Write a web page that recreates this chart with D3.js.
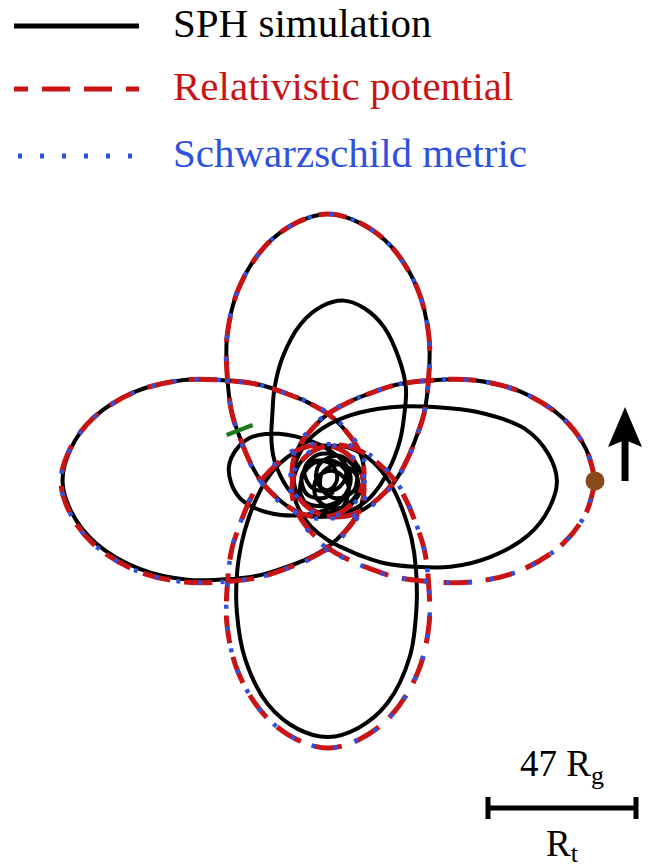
<!DOCTYPE html>
<html>
<head>
<meta charset="utf-8">
<style>
body { margin: 0; background: #fff; }
svg { display: block; font-family: "Liberation Serif", "Times New Roman", serif; }

/*	orbit styles	*/
.sph  { fill: none; stroke: #000; stroke-width: 4px; stroke-linejoin: round; }
.rel  { fill: none; stroke: #c81414; stroke-width: 5px; stroke-dasharray: 28 14; }
.schw { fill: none; stroke: #2f52dc; stroke-width: 4.5px; stroke-dasharray: 4 18; }

.bar { stroke: #000; stroke-width: 5px; }
</style>
</head>
<body>
<svg id="chart" width="651" height="868"></svg>

<script src="https://d3js.org/d3.v7.min.js"></script>
<script>
//	legend labels
var labels = ["SPH simulation", "Relativistic potential", "Schwarzschild metric"];

//	orbital phase (deg) measured from the apocentre each petal starts at
var relPhase = [0, 7, 15, 25, 35, 45, 55, 65, 75, 90, 110, 130, 155, 190, 225,
                260, 295, 320, 340, 360, 375, 385, 395, 405, 415, 425, 435, 443, 450];
//	apocentre angle (deg, continuous) each petal starts at
var petalStart = [0, 450, 900, 1350];

//	radius in R_g along each petal, relativistic potential
var relRadius = [
  [84.8, 82.6, 77.2, 67.3, 55.9, 45.1, 37.2, 30.5, 26.0, 21.3, 16.8, 14.3, 12.4, 11.0, 10.5,
   11.0, 12.4, 14.3, 16.8, 21.3, 26.0, 30.5, 37.2, 45.1, 55.9, 67.3, 77.2, 82.6, 84.8],
  [84.8, 82.6, 77.2, 67.3, 55.9, 45.1, 37.2, 30.5, 26.0, 21.3, 16.8, 14.3, 12.4, 11.0, 10.5,
   11.0, 12.4, 14.3, 16.8, 21.3, 26.0, 30.5, 37.2, 45.1, 55.9, 67.3, 77.2, 82.6, 84.8],
  [84.8, 82.6, 77.2, 67.3, 55.9, 45.1, 37.2, 30.5, 26.0, 21.3, 16.8, 14.3, 12.4, 11.0, 10.5,
   11.0, 12.4, 14.3, 16.8, 21.3, 26.0, 30.5, 37.2, 45.1, 55.9, 67.3, 77.2, 82.6, 84.8],
  [84.8, 82.6, 77.2, 67.3, 55.9, 45.1, 37.2, 30.5, 26.0, 21.3, 16.8, 14.3, 12.4, 11.0, 10.5,
   11.0, 12.4, 14.3, 16.8, 21.3, 26.0, 30.5, 37.2, 45.1, 55.9, 67.3, 77.2, 82.6, 84.8]
];

//	radius in R_g along each petal, Schwarzschild metric
var schwRadius = [
  [84.8, 82.6, 77.2, 67.3, 55.9, 45.1, 37.2, 30.6, 26.2, 21.6, 17.3, 14.8, 12.9, 11.4, 10.9,
   11.4, 12.9, 14.8, 17.3, 21.6, 26.2, 30.6, 37.2, 45.1, 55.9, 67.3, 77.2, 82.6, 84.8],
  [84.8, 82.6, 77.2, 67.3, 55.9, 45.1, 37.2, 30.6, 26.2, 21.6, 17.3, 14.8, 12.9, 11.4, 10.9,
   11.4, 12.9, 14.8, 17.3, 21.6, 26.2, 30.6, 37.2, 45.1, 55.9, 67.3, 77.2, 82.6, 84.8],
  [84.8, 82.6, 77.2, 67.3, 55.9, 45.1, 37.2, 30.6, 26.2, 21.6, 17.3, 14.8, 12.9, 11.4, 10.9,
   11.4, 12.9, 14.8, 17.3, 21.6, 26.2, 30.6, 37.2, 45.1, 55.9, 67.3, 77.2, 82.6, 84.8],
  [84.8, 82.6, 77.2, 67.3, 55.9, 45.1, 37.2, 30.6, 26.2, 21.6, 17.3, 14.8, 12.9, 11.4, 10.9,
   11.4, 12.9, 14.8, 17.3, 21.6, 26.2, 30.6, 37.2, 45.1, 55.9, 67.3, 77.2, 82.6, 84.8]
];

//	SPH orbit: angle (deg, continuous) and radius (R_g)
var sphPhi = [
  0, 7, 15, 25, 35, 45, 55, 65, 75, 90, 110, 130, 155, 190, 225,
  260, 295, 320, 340, 360, 375, 385, 395, 405, 415, 425, 435, 443, 450,
  457, 465, 475, 485, 495, 505, 515, 525, 540, 560, 580, 605, 640, 675,
  710, 745, 770, 790, 810, 825, 835, 845, 855, 865, 875, 885, 893, 900,
  907, 915, 925, 935, 945, 955, 965, 975, 990, 1010, 1030, 1055, 1090, 1125,
  1160, 1195, 1220, 1240, 1260, 1275, 1285, 1295, 1305, 1315, 1325, 1335, 1343, 1350,
  1357, 1365, 1375, 1385, 1395, 1405, 1415, 1425, 1440, 1460, 1480, 1505, 1540, 1575,
  1610, 1645, 1670, 1690, 1710, 1725, 1735, 1745, 1755, 1765, 1775, 1785, 1793, 1800,
  1807, 1815, 1825, 1835, 1845, 1855, 1865, 1875, 1890, 1910, 1930, 1955, 1990, 2022,
  2055, 2090, 2115, 2135, 2155, 2170, 2180, 2190, 2200, 2210, 2220, 2230, 2238, 2245,
  2252, 2260, 2270, 2280, 2290, 2300, 2310, 2320, 2335, 2355, 2375, 2400, 2435, 2468,
  2501, 2531, 2571, 2601, 2616, 2631, 2646, 2656, 2663, 2671, 2681, 2691,
  2701, 2711, 2719, 2726, 2736, 2751, 2766, 2781, 2811, 2851, 2881, 2911,
  2951, 2996, 3041, 3086, 3131,
  3176, 3221, 3266, 3311, 3351, 3391, 3436, 3481, 3526, 3571,
  3612, 3653, 3694, 3740, 3776, 3812, 3858, 3899, 3940, 3981,
  4026, 4071, 4116, 4161, 4206, 4251, 4296, 4341, 4386, 4431,
  4473, 4515, 4557, 4600, 4641, 4682, 4725, 4767, 4809, 4851,
  4893, 4935, 4977
];
var sphRadius = [
  84.8, 82.6, 77.2, 67.3, 55.9, 45.1, 37.2, 30.5, 26.0, 21.3, 16.8, 14.3, 12.4, 11.0, 10.5,
  11.0, 12.4, 14.3, 16.8, 21.3, 26.0, 30.5, 37.2, 45.1, 55.9, 67.3, 77.2, 82.6, 84.8,
  82.6, 77.2, 67.3, 55.9, 45.1, 37.2, 30.5, 26.0, 21.3, 16.8, 14.3, 12.4, 11.0, 10.5,
  11.0, 12.4, 14.3, 16.8, 21.3, 26.0, 30.5, 37.2, 45.1, 55.9, 67.3, 77.2, 82.4, 84.3,
  82.0, 76.3, 66.0, 54.6, 44.0, 36.3, 29.9, 25.6, 20.9, 16.6, 14.1, 12.3, 10.9, 10.5,
  10.9, 12.3, 14.0, 16.3, 19.8, 23.8, 27.8, 33.3, 40.8, 50.5, 62.3, 73.5, 79.3, 81.3,
  79.0, 73.0, 61.5, 49.0, 39.5, 32.5, 27.0, 23.2, 19.3, 15.9, 13.7, 12.1, 10.8, 10.5,
  10.8, 11.8, 13.3, 15.5, 18.8, 22.5, 26.5, 32.0, 38.5, 47.5, 57.0, 66.0, 70.8, 72.7,
  70.5, 64.5, 52.0, 41.0, 33.5, 28.0, 24.0, 21.0, 17.8, 15.0, 13.0, 11.6, 10.7, 10.4,
  10.4, 11.1, 12.3, 14.0, 16.5, 19.5, 22.5, 26.5, 31.5, 38.5, 45.0, 52.0, 56.0, 57.5,
  55.5, 50.5, 42.0, 34.0, 27.5, 23.5, 20.5, 18.0, 15.0, 12.5, 10.5, 9.0, 7.6, 7.0,
  7.0, 7.3, 7.9, 9.2, 10.8, 13.3, 17.5, 21.6, 24.8, 28.3, 30.8, 31.8,
  30.8, 28.5, 25.3, 22.3, 18.4, 14.0, 11.3, 9.5, 8.0, 7.2, 6.8, 6.5,
  6.6, 7.0, 8.0, 9.6, 10.5,
  9.6, 7.0, 4.6, 3.4, 3.0, 3.4, 4.5, 6.8, 9.2, 10.0,
  9.2, 6.5, 4.0, 2.9, 2.5, 2.9, 4.0, 6.3, 8.8, 9.5,
  8.8, 6.3, 4.2, 3.3, 3.0, 3.3, 4.2, 6.2, 8.4, 9.0,
  8.4, 5.9, 3.8, 2.8, 2.5, 2.8, 3.8, 5.8, 7.9, 8.5,
  7.9, 5.6, 3.8
];

//	marked point on the orbit (angle deg, radius R_g)
var greenMark = [150, 32.4];
//	scale bar length in R_g
var barLength = 47;

// ------------------------------------------------------------

var svg = d3.select("#chart"),
    cx = 328, cy = 481;

var rScale = d3.scaleLinear().domain([0, 47]).range([0, 148]);
//	math angle (counter-clockwise from +x) -> d3 radial angle (clockwise from 12 o'clock)
var aScale = d3.scaleLinear().domain([0, 360]).range([Math.PI / 2, Math.PI / 2 - 2 * Math.PI]);

var radial = d3.lineRadial()
    .angle(function(d) { return aScale(d[0]); })
    .radius(function(d) { return rScale(d[1]); })
    .curve(d3.curveCatmullRom.alpha(0.5));

function toXY(d) {
  var a = aScale(d[0]), r = rScale(d[1]);
  return [cx + r * Math.sin(a), cy - r * Math.cos(a)];
}

function petalPoints(radii) {
  var pts = [];
  petalStart.forEach(function(s, i) {
    relPhase.forEach(function(p, j) {
      if (i > 0 && j === 0) return;
      pts.push([s + p, radii[i][j]]);
    });
  });
  return pts;
}

var orbit = svg.append("g").attr("transform", "translate(" + cx + "," + cy + ")");

orbit.append("path")
    .attr("class", "sph")
    .attr("d", radial(d3.zip(sphPhi, sphRadius)));

orbit.append("path")
    .attr("class", "rel")
    .attr("d", radial(petalPoints(relRadius)));

orbit.append("path")
    .attr("class", "schw")
    .attr("d", radial(petalPoints(schwRadius)));

//	green marker
var gm = toXY(greenMark);
svg.append("line")
    .attr("x1", gm[0] - 13).attr("y1", gm[1] + 5)
    .attr("x2", gm[0] + 13).attr("y2", gm[1] - 5)
    .attr("stroke", "#1f7a1f")
    .attr("stroke-width", 4.5);

//	starting point + direction arrow
var start = toXY([sphPhi[0], sphRadius[0]]);
svg.append("circle")
    .attr("cx", start[0]).attr("cy", start[1])
    .attr("r", 9.5)
    .attr("fill", "#8a4b1c");

var ax = start[0] + 30;
svg.append("line")
    .attr("x1", ax).attr("y1", start[1])
    .attr("x2", ax).attr("y2", start[1] - 45)
    .attr("stroke", "#000")
    .attr("stroke-width", 7);
svg.append("path")
    .attr("d", "M" + (ax - 17) + "," + (start[1] - 34) +
               "L" + ax + "," + (start[1] - 74) +
               "L" + (ax + 17) + "," + (start[1] - 34) +
               "L" + ax + "," + (start[1] - 41) + "Z")
    .attr("fill", "#000");

//	legend
var legendY = [26, 89, 156],
    legendClass = ["sph", "rel", "schw"],
    legendColor = ["#000", "#c81414", "#2f52dc"],
    legendBase = [37, 100, 167];

var legend = svg.append("g");
legend.selectAll("line")
    .data(labels)
  .enter().append("line")
    .attr("class", function(d, i) { return legendClass[i]; })
    .attr("x1", 14).attr("x2", 139)
    .attr("y1", function(d, i) { return legendY[i]; })
    .attr("y2", function(d, i) { return legendY[i]; })
    .style("stroke-width", 5)
    .style("stroke-dashoffset", function(d, i) { return i === 1 ? 14 : (i === 2 ? 18 : 0); });

legend.selectAll("text")
    .data(labels)
  .enter().append("text")
    .attr("x", 173)
    .attr("y", function(d, i) { return legendBase[i]; })
    .attr("fill", function(d, i) { return legendColor[i]; })
    .style("font-size", "41px")
    .text(function(d) { return d; });

//	scale bar
var bx0 = 488, bx1 = bx0 + rScale(barLength), by = 808;
svg.append("line").attr("class", "bar")
    .attr("x1", bx0).attr("x2", bx1).attr("y1", by).attr("y2", by);
[bx0, bx1].forEach(function(x) {
  svg.append("line").attr("class", "bar")
      .attr("x1", x).attr("x2", x).attr("y1", by - 11).attr("y2", by + 11);
});

var barTop = svg.append("text")
    .attr("x", (bx0 + bx1) / 2).attr("y", 776)
    .attr("text-anchor", "middle")
    .style("font-size", "37px");
barTop.append("tspan").text(barLength + " R");
barTop.append("tspan").attr("dy", 8).style("font-size", "26px").text("g");

var barBottom = svg.append("text")
    .attr("x", (bx0 + bx1) / 2).attr("y", 856)
    .attr("text-anchor", "middle")
    .style("font-size", "37px");
barBottom.append("tspan").text("R");
barBottom.append("tspan").attr("dy", 6).style("font-size", "26px").text("t");
</script>
</body>
</html>
